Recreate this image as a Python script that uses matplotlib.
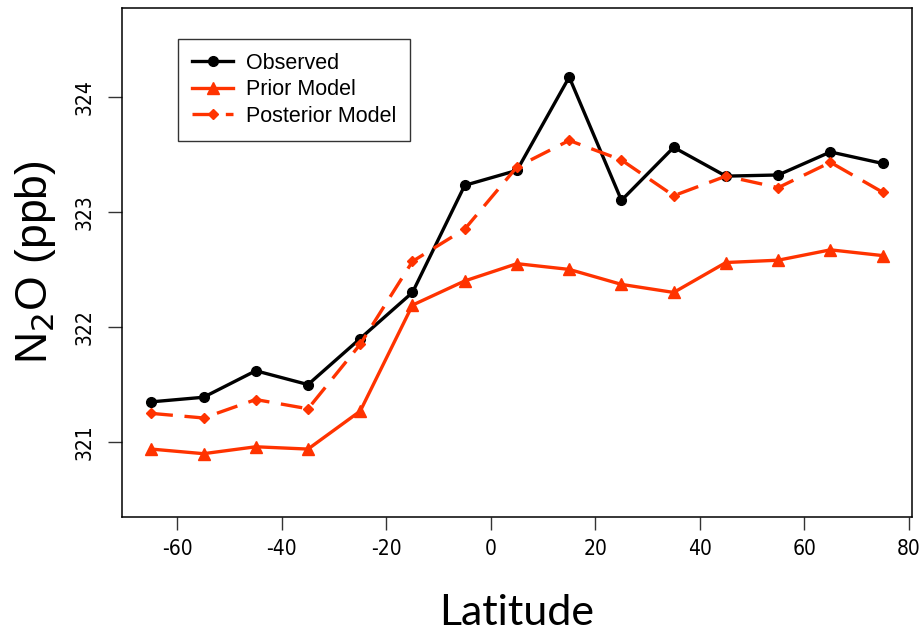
import matplotlib
matplotlib.use('Agg')
import matplotlib.pyplot as plt
from matplotlib import font_manager

# Data
lat = [-65, -55, -45, -35, -25, -15, -5, 5, 15, 25, 35, 45, 55, 65, 75]
observed = [321.35, 321.39, 321.62, 321.50, 321.90, 322.30, 323.23, 323.36,
            324.17, 323.10, 323.56, 323.31, 323.32, 323.52, 323.42]
prior = [320.94, 320.90, 320.96, 320.94, 321.27, 322.19, 322.40, 322.55,
         322.50, 322.37, 322.30, 322.56, 322.58, 322.67, 322.62]
posterior = [321.25, 321.21, 321.37, 321.29, 321.85, 322.57, 322.85, 323.39,
             323.62, 323.45, 323.14, 323.31, 323.21, 323.43, 323.17]
xticks = [-60, -40, -20, 0, 20, 40, 60, 80]
yticks = [321, 322, 323, 324]

red = '#FF3300'
names = {f.name for f in font_manager.fontManager.ttflist}
if 'Liberation Sans Narrow' in names:
    tickprops = dict(family='Liberation Sans Narrow', fontsize=16)
else:
    tickprops = dict(family='DejaVu Sans', stretch='condensed', fontsize=15)

fig = plt.figure(figsize=(9.23, 6.34), dpi=100)
ax = fig.add_axes([0.1322, 0.1845, 0.988 - 0.1322, 0.9874 - 0.1845])

ax.plot(lat, observed, color='black', lw=2.4, marker='o', ms=7, label='Observed')
ax.plot(lat, prior, color=red, lw=2.4, marker='^', ms=9, label='Prior Model')
ax.plot(lat, posterior, color=red, lw=2.4, marker='D', ms=5, dashes=(6.5, 3.5),
        label='Posterior Model')

ax.set_xlim(-70.6, 80.6)
ax.set_ylim(320.35, 324.77)
ax.set_xticks(xticks)
ax.set_yticks(yticks)
ax.set_xticklabels([str(v) for v in xticks], **tickprops)
ax.set_yticklabels([str(v) for v in yticks], rotation=90, va='center', **tickprops)
ax.tick_params(axis='x', length=9, width=1, color='#333333', pad=7)
ax.tick_params(axis='y', length=10, width=1, color='#333333', pad=10)
for s in ax.spines.values():
    s.set_linewidth(1.1)

ax.set_xlabel('Latitude', family=['Lato', 'DejaVu Sans'], fontsize=31, labelpad=25)
ax.set_ylabel('N$_2$O (ppb)', family=['Liberation Sans', 'DejaVu Sans'], fontsize=32,
              labelpad=12)

leg = ax.legend(loc='upper left', bbox_to_anchor=(0.071, 0.939), borderaxespad=0,
                frameon=True, fancybox=False, edgecolor='black', handlelength=1.9,
                borderpad=0.65, labelspacing=0.25, handletextpad=0.6,
                prop={'family': ['Liberation Sans', 'DejaVu Sans'], 'size': 15.5})
leg.get_frame().set_linewidth(1.0)

fig.savefig('out.png', dpi=100)
